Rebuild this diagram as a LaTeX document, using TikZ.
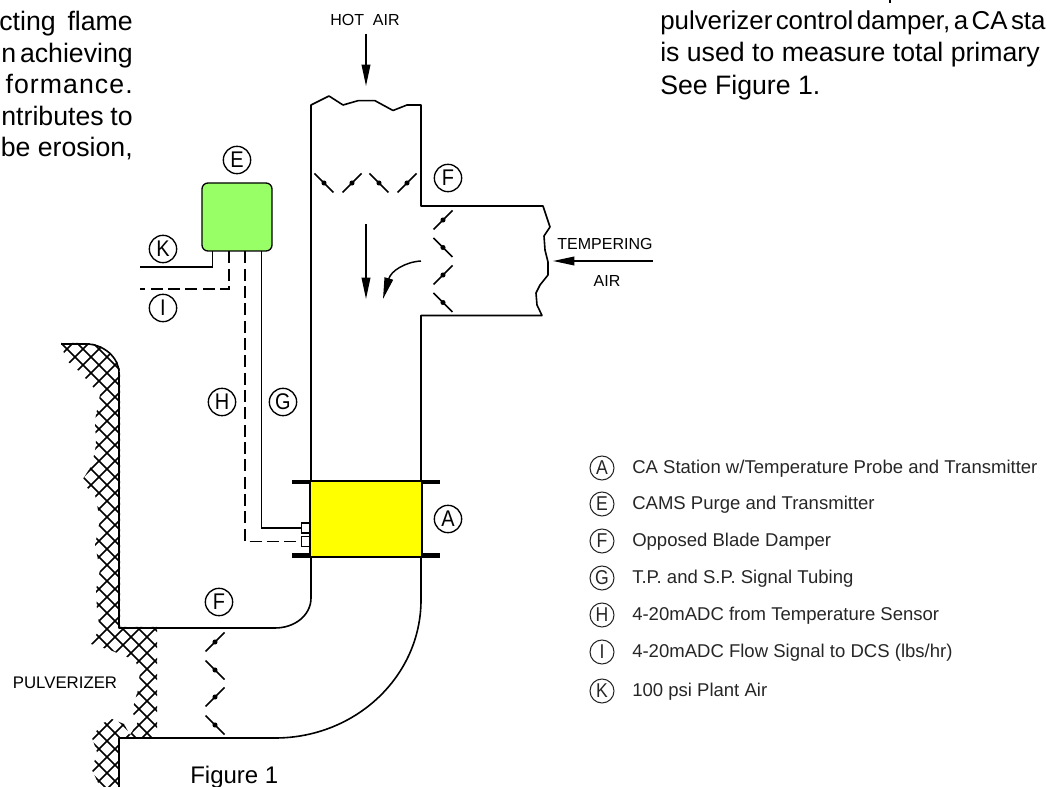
\documentclass[tikz,border=0pt]{standalone}
\usepackage{fontspec}
\setmainfont{Liberation Sans}
\newfontfamily\tagfont[FakeStretch=0.88]{Liberation Sans}
\usetikzlibrary{arrows.meta}
\definecolor{legendtext}{HTML}{262626}
\definecolor{caYellow}{RGB}{255,255,0}
\definecolor{camsGreen}{RGB}{153,255,102}
\newcommand{\jline}[2]{\makebox[#1][s]{\spaceskip=0.12em plus 1em minus 0.11em\relax #2}}
\tikzset{
  wall/.style={line width=1.2pt,line join=round},
  wire/.style={line width=1.2pt},
  dashwire/.style={line width=1.2pt,dash pattern=on 9pt off 4pt},
  blade/.style={line width=1.1pt},
  tag/.style={circle,draw,line width=1pt,minimum size=20.5pt,inner sep=0pt,font=\tagfont\fontsize{17}{17}\selectfont},
  ltag/.style={circle,draw=legendtext,text=legendtext,line width=.8pt,minimum size=18pt,inner sep=0pt,font=\tagfont\fontsize{15}{15}\selectfont},
  ltext/.style={anchor=base west,inner sep=0pt,text=legendtext,font=\fontsize{13.9}{15}\selectfont},
  para/.style={inner sep=0pt,font=\fontsize{20}{22}\selectfont},
  cad/.style={inner sep=0pt,font=\fontsize{12}{15}\selectfont},
  flow/.style={line width=1.1pt,-{Triangle[length=16pt,width=6.5pt]}},
  hatchline/.style={line width=1.2pt},
  flange/.style={line width=3.6pt},
  sensor/.style={draw,fill=white,line width=.8pt,minimum width=5.5pt,minimum height=7.5pt,inner sep=0pt},
}
\newcommand{\bladeup}[2]{\draw[blade] (#1-9.5,#2+9.5) -- (#1+9.5,#2-9.5); \fill (#1,#2) circle[radius=1.9pt];}
\newcommand{\bladedn}[2]{\draw[blade] (#1-9.5,#2-9.5) -- (#1+9.5,#2+9.5); \fill (#1,#2) circle[radius=1.9pt];}
\begin{document}
\begin{tikzpicture}[x=0.75pt,y=-0.75pt]
\useasboundingbox (0,0) rectangle (1047,787);
% hatching
\begin{scope}
\clip (61,343) -- (86,343) .. controls (103,343) and (120,357) .. (120,373) -- (120,627) -- (157,627) -- (157,739)
 -- (119,739) -- (119,787) -- (100,787) -- (92,770) -- (97,752) -- (92,738) -- (101,724) -- (112,719) -- (124,724) -- (130,735) -- (138,722) -- (132,712) -- (135,700) -- (138,690) -- (140,672) -- (135,660) -- (122,655) -- (110,650) -- (91,644) -- (100,628) -- (97,612) -- (96,590) -- (100,570) -- (95,545) -- (100,520) -- (95,495) -- (81,482) -- (92,465) -- (96,445) -- (95,420) -- (100,395) -- (80,372) -- (66,360) -- cycle;
\foreach \c in {400,416,...,960}{\draw[hatchline] (\c-340,340) -- (\c-790,790);}
\foreach \c in {-730,-714,...,-250}{\draw[hatchline] (\c+340,340) -- (\c+790,790);}
\end{scope}
% upper duct
\coordinate (ductTL) at (311,105);
\coordinate (ductTR) at (421,105);
\coordinate (ductBL) at (311,481);
\coordinate (ductBR) at (421,481);
\draw[wall] (ductBL) -- (ductTL) -- (329,96) -- (343,105) -- (358,100.7) -- (375,100.7) -- (393,110.5) -- (407,105) -- (ductTR) -- (421,206) -- (543,206) -- (550,227) -- (544,236) -- (545,250) -- (548,262) -- (548,275) -- (540,285) -- (536,293) -- (537,305) -- (542,315.5) -- (421,315.5) -- (ductBR);
% lower duct
\draw[wall] (61,344) -- (86,344) .. controls (103,344) and (119,357) .. (119,373) -- (119,628) -- (275,628) .. controls (295,628) and (311,615) .. (311,598) -- (311,557);
\draw[wall] (119,787) -- (119,738) -- (275,738) .. controls (356,738) and (421,676) .. (421,600) -- (421,557);
% dampers
\bladedn{324}{183}\bladeup{352}{183}\bladedn{379}{183}\bladeup{407}{183}
\bladeup{443}{220}\bladedn{443}{247.5}\bladeup{443}{275}\bladedn{443}{302.5}
\bladeup{215}{642}\bladedn{215}{670}\bladeup{215}{697}\bladedn{215}{725}
% flanges
\coordinate (flTLa) at (292,482); \coordinate (flTLb) at (311,482);
\coordinate (flTRa) at (421,482); \coordinate (flTRb) at (440,482);
\coordinate (flBLa) at (292,555.5); \coordinate (flBLb) at (311,555.5);
\coordinate (flBRa) at (421,555.5); \coordinate (flBRb) at (440,555.5);
\draw[flange] (flTLa) -- (flTLb); \draw[flange] (flTRa) -- (flTRb);
\draw[flange] (flBLa) -- (flBLb); \draw[flange] (flBRa) -- (flBRb);
% boxes
\node[draw,fill=caYellow,line width=1pt,minimum width=84pt,minimum height=57pt,inner sep=0pt] (boxA) at (366,519) {};
\node[draw,fill=camsGreen,line width=1pt,rounded corners=4.5pt,minimum width=52.5pt,minimum height=51pt,inner sep=0pt] (boxE) at (237,217) {};
\node[sensor] (sensG) at (305.5,528) {};
\node[sensor] (sensH) at (305.5,541.5) {};
% signal lines
\coordinate (portK) at (212.5,251.5); \coordinate (endK) at (140,267);
\coordinate (portI) at (229,251.5);   \coordinate (endI) at (140,289);
\coordinate (portH) at (245,251.5);
\coordinate (portG) at (261.5,251.5);
\draw[wire] (portK) |- (endK);
\draw[dashwire] (portI) |- (endI);
\draw[dashwire] (portH) |- (sensH.west);
\draw[wire] (portG) |- (sensG.west);
% flow arrows
\coordinate (hotA) at (366,34);   \coordinate (hotB) at (366,86);
\coordinate (midA) at (366,224);  \coordinate (midB) at (366,299);
\coordinate (curA) at (421,261);  \coordinate (curB) at (383,299);
\coordinate (temA) at (653,261);  \coordinate (temB) at (553,261);
\draw[flow] (hotA) -- (hotB);
\draw[flow] (midA) -- (midB);
\draw[flow] (curA) .. controls (405,262) and (391,271) .. (curB);
\draw[flow] (temA) -- (temB);
% tags on drawing
\node[tag] (tagE) at (237,160) {E};
\node[tag] (tagK) at (163,249) {K};
\node[tag] (tagI) at (163,308) {I};
\node[tag] (tagF) at (448,178) {F};
\node[tag] (tagH) at (222,402) {H};
\node[tag] (tagG) at (283,402) {G};
\node[tag] (tagA) at (448,519) {A};
\node[tag] (tagFb) at (219,602) {F};
% cad labels
\node[cad] (lblHot) at (365,20) {HOT\ \ AIR};
\node[cad] (lblTemp) at (605,244) {TEMPERING};
\node[cad] (lblAir) at (607,281) {AIR};
\node[cad,font=\fontsize{12.6}{15}\selectfont] (lblPulv) at (65,683) {PULVERIZER};
% paragraph fragments
\node[para,anchor=base east] (pa) at (133,31) {\jline{100pt}{cting flame}};
\node[para,anchor=base east] (pb) at (133,63) {\jline{98.5pt}{n achieving}};
\node[para,anchor=base east] (pc) at (133,94) {\addfontfeature{LetterSpace=4}formance.};
\node[para,anchor=base east] (pd) at (133,126) {\jline{98.5pt}{ntributes to}};
\node[para,anchor=base east] (pe) at (133,157) {be erosion,};
\node[inner sep=0pt,anchor=base west,font=\fontsize{19.4}{22}\selectfont] (qa) at (660,30) {\jline{289pt}{pulverizer control damper, a CA sta}};
\node[para,anchor=base west] (qb) at (660,62) {is used to measure total primary};
\node[para,anchor=base west] (qc) at (660,95) {See Figure 1.};
\node[inner sep=0pt,anchor=base west,font=\fontsize{18}{20}\selectfont] (fig) at (190,783) {Figure 1};
\coordinate (pTop) at (890,0); \coordinate (pBot) at (890,3);
\draw[line width=1.2pt] (pTop) -- (pBot);
% legend
\foreach \n/\l/\y/\t in {a/A/468/{CA Station w\slash Temperature Probe and Transmitter},
 e/E/504/{CAMS Purge and Transmitter},
 f/F/541/{Opposed Blade Damper},
 g/G/578/{T.P. and S.P. Signal Tubing},
 h/H/615/{4-20mADC from Temperature Sensor},
 i/I/652/{4-20mADC Flow Signal to DCS (lbs\slash hr)},
 k/K/691/{100 psi Plant Air}}{
  \node[ltag] (leg\n) at (602,\y) {\l};
  \node[ltext] (txt\n) at (632,\y+5.5) {\t};
}
\end{tikzpicture}
\end{document}
